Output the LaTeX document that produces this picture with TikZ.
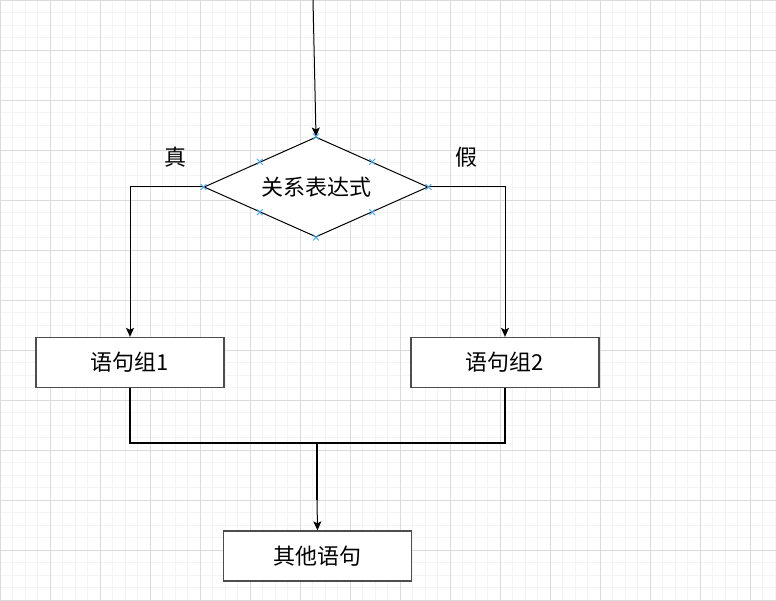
\documentclass[tikz,border=0pt]{standalone}
\usepackage{fontspec}
\setmainfont{Noto Sans CJK SC}
\usetikzlibrary{shapes.geometric,shapes.misc,arrows.meta}
\definecolor{gridminor}{HTML}{F4F4F4}
\definecolor{gridmajor}{HTML}{DADADA}
\definecolor{boxline}{HTML}{4D4D4D}
\definecolor{markblue}{HTML}{3FA9F5}
\tikzset{
  stmt/.style={draw=boxline, line width=1.3pt, fill=white, minimum width=188pt, minimum height=50pt, inner sep=0pt},
  cond/.style={diamond, draw, line width=1pt, fill=white, aspect=2.24, minimum width=224pt, minimum height=100pt, inner sep=0pt},
  flow/.style={line width=1pt, -{Stealth[length=9pt,width=8pt,inset=2pt]}},
  merge/.style={line width=2pt},
  xmark/.style={cross out, draw=markblue, line width=0.8pt, minimum size=5pt, inner sep=0pt},
}
\begin{document}
\begin{tikzpicture}[x=1pt,y=-1pt,font=\fontsize{22}{26}\selectfont]
  \useasboundingbox (0,0) rectangle (776,601);
  \fill[white] (0,0) rectangle (776,601);
  % grid
  \foreach \i in {0,12.5,...,776} \draw[gridminor] (\i,0) -- (\i,601);
  \foreach \i in {0,12.5,...,601} \draw[gridminor] (0,\i) -- (776,\i);
  \foreach \i in {0,50,...,776} \draw[gridmajor] (\i,0) -- (\i,601);
  \foreach \i in {0,50,...,601} \draw[gridmajor] (0,\i) -- (776,\i);

  \node[cond] (expr) at (316,187) {关系表达式};
  \node[stmt] (grp1) at (130,362.5) {语句组1};
  \node[stmt] (grp2) at (505,362.5) {语句组2};
  \node[stmt] (other) at (317.5,556) {其他语句};
  \node (tlabel) at (175,157) {真};
  \node (flabel) at (466,157) {假};
  \coordinate (start) at (313,0);
  \coordinate (join) at (317,443);
  \coordinate (bend) at (317,500);

  \draw[flow] (start) -- (expr.north);
  \draw[flow] (expr.west) -| (grp1.north);
  \draw[flow] (expr.east) -| (grp2.north);
  \draw[merge] (grp1.south) |- (join) -| (grp2.south);
  \draw[merge] (join) -- (bend);
  \draw[flow] (bend) -- (other.north);

  % selection marks
  \foreach \a in {north,north east,east,south east,south,south west,west,north west}
    \node[xmark] at (expr.\a) {};
\end{tikzpicture}
\end{document}
